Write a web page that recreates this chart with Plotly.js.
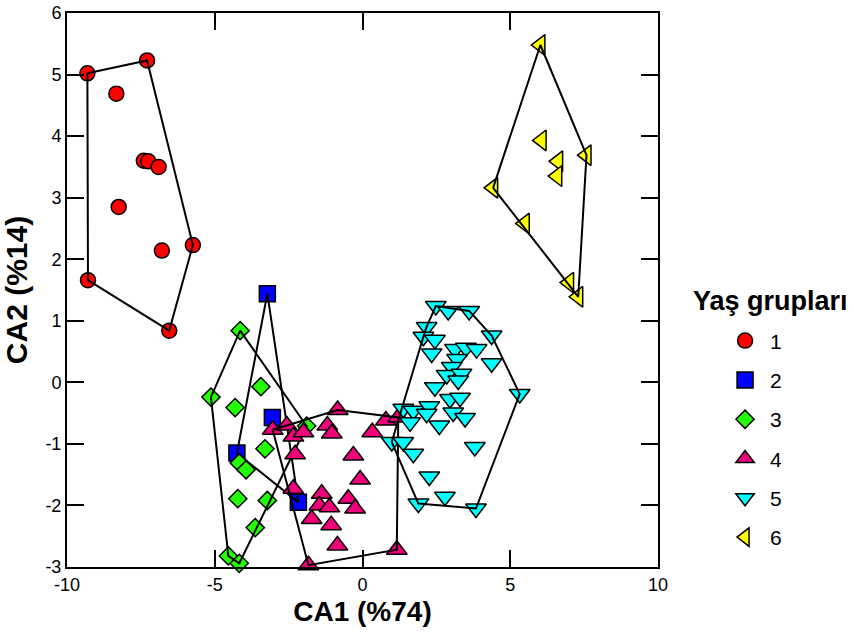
<!DOCTYPE html>
<html>
<head>
<meta charset="utf-8">
<script src="https://cdn.plot.ly/plotly-3.0.1.min.js"></script>
<style>html,body{margin:0;padding:0;background:#fff;}#chart{width:854px;height:632px;}</style>
</head>
<body>
<div id="chart"></div>
<script>
// ---- data ----
const groupNames = ["1", "2", "3", "4", "5", "6"];
const legendTitle = "Yaş grupları";
const xTitle = "CA1 (%74)";
const yTitle = "CA2 (%14)";
const xTickVals = [-10, -5, 0, 5, 10];
const xTickText = ["-10", "-5", "0", "5", "10"];
const yTickVals = [-3, -2, -1, 0, 1, 2, 3, 4, 5, 6];
const yTickText = ["-3", "-2", "-1", "0", "1", "2", "3", "4", "5", "6"];

const g1X = [-9.31, -7.29, -8.33, -7.40, -7.25, -6.90, -8.25, -5.74, -6.79, -9.29, -6.54];
const g1Y = [5.02, 5.23, 4.69, 3.60, 3.59, 3.50, 2.85, 2.23, 2.14, 1.66, 0.84];

const g2X = [-3.22, -4.25, -3.05, -2.17];
const g2Y = [1.44, -1.15, -0.57, -1.95];

const g3X = [-4.14, -5.13, -3.44, -4.31, -1.89, -3.30, -4.17, -3.94, -4.22, -3.22, -3.63, -4.54, -4.17];
const g3Y = [0.84, -0.24, -0.07, -0.41, -0.71, -1.08, -1.31, -1.42, -1.89, -1.92, -2.36, -2.82, -2.94];

const g4X = [-0.84, -1.19, -1.04, 0.79, 0.33, -0.31, -0.08, -0.48, -0.25, -1.38, -1.46, -1.12, -1.72, -1.06, -0.85, 1.16, -1.83, -3.04, -2.56, -2.34, -2.00, -2.28, -2.34, 1.21];
const g4Y = [-0.45, -0.70, -0.83, -0.62, -0.81, -1.19, -1.58, -1.89, -2.05, -1.81, -2.00, -2.03, -2.22, -2.32, -2.65, -2.72, -2.97, -0.77, -0.70, -0.88, -0.81, -1.17, -1.73, -0.57];

const g5X = [2.48, 2.90, 3.61, 2.17, 2.06, 2.45, 4.37, 2.34, 3.13, 3.50, 3.86, 3.20, 4.37, 3.02, 2.85, 3.35, 3.24, 2.45, 2.96, 3.30, 5.32, 1.38, 1.72, 2.26, 2.17, 3.07, 3.47, 2.60, 1.61, 0.99, 1.38, 1.72, 3.80, 2.26, 2.79, 1.89, 3.84];
const g5Y = [1.24, 1.16, 1.16, 0.90, 0.74, 0.69, 0.76, 0.47, 0.54, 0.56, 0.54, 0.38, 0.31, 0.25, 0.12, 0.14, 0.03, -0.08, -0.27, -0.25, -0.19, -0.43, -0.46, -0.39, -0.51, -0.49, -0.58, -0.70, -0.65, -0.97, -0.97, -1.16, -1.05, -1.53, -1.86, -1.97, -2.05];

const g6X = [6.02, 6.06, 7.58, 6.62, 6.59, 4.42, 5.49, 6.99, 7.30];
const g6Y = [5.48, 3.93, 3.69, 3.59, 3.35, 3.16, 2.58, 1.62, 1.39];

// ---- styles ----
const groupsX = [g1X, g2X, g3X, g4X, g5X, g6X];
const groupsY = [g1Y, g2Y, g3Y, g4Y, g5Y, g6Y];
const symbols = ["circle", "square", "diamond", "triangle-up", "triangle-down", "triangle-left"];
const colors = ["#FF0000", "#0000FF", "#22FF00", "#F0007A", "#00FFFF", "#FFFF00"];
const sizes = [15, 16, 14, 18, 18, 18];

function hull(xs, ys) {
  const pts = xs.map((x, i) => [x, ys[i]]).sort((a, b) => a[0] - b[0] || a[1] - b[1]);
  const cross = (o, a, b) => (a[0] - o[0]) * (b[1] - o[1]) - (a[1] - o[1]) * (b[0] - o[0]);
  const lower = [], upper = [];
  for (const p of pts) {
    while (lower.length >= 2 && cross(lower[lower.length - 2], lower[lower.length - 1], p) <= 0) lower.pop();
    lower.push(p);
  }
  for (let i = pts.length - 1; i >= 0; i--) {
    const p = pts[i];
    while (upper.length >= 2 && cross(upper[upper.length - 2], upper[upper.length - 1], p) <= 0) upper.pop();
    upper.push(p);
  }
  const h = lower.slice(0, -1).concat(upper.slice(0, -1));
  h.push(h[0]);
  return h;
}

const font = "Liberation Sans, Arial, sans-serif";
const traces = [];
for (let i = 0; i < 6; i++) {
  traces.push({
    type: "scatter", mode: "markers", name: groupNames[i],
    x: groupsX[i], y: groupsY[i],
    legendgroup: "g" + i,
    marker: { symbol: symbols[i], color: colors[i], size: sizes[i], line: { color: "#000", width: 1.5 } },
    cliponaxis: false
  });
  const h = hull(groupsX[i], groupsY[i]);
  traces.push({
    type: "scatter", mode: "lines", showlegend: false, hoverinfo: "skip",
    x: h.map(p => p[0]), y: h.map(p => p[1]),
    line: { color: "#000", width: 2 },
    cliponaxis: false
  });
}

const axisCommon = {
  showline: true, linecolor: "#000", linewidth: 2, mirror: "ticks",
  ticks: "inside", ticklen: 17, tickwidth: 2, tickcolor: "#000",
  showgrid: false, zeroline: false,
  tickfont: { family: font, size: 18, color: "#000" },
  tickmode: "array", fixedrange: true
};

const layout = {
  width: 854, height: 632,
  margin: { l: 67, r: 196, t: 13, b: 65 },
  paper_bgcolor: "#fff", plot_bgcolor: "#fff",
  font: { family: font, color: "#000" },
  xaxis: Object.assign({}, axisCommon, {
    range: [-10, 10], tickvals: xTickVals, ticktext: xTickText,
    title: { text: xTitle, font: { family: font, size: 28, weight: "bold", color: "#000" }, standoff: 8 }
  }),
  yaxis: Object.assign({}, axisCommon, {
    range: [-3, 6], tickvals: yTickVals, ticktext: yTickText,
    title: { text: yTitle, font: { family: font, size: 30, weight: "bold", color: "#000" }, standoff: 10 }
  }),
  showlegend: true,
  legend: {
    x: 1.105, xanchor: "left", y: 0.445, yanchor: "top",
    font: { family: font, size: 21, color: "#000" },
    traceorder: "grouped", tracegroupgap: 9,
    itemwidth: 40, bgcolor: "rgba(0,0,0,0)"
  },
  annotations: [{
    text: legendTitle, xref: "paper", yref: "paper", x: 1.19, y: 0.481,
    xanchor: "center", yanchor: "middle", showarrow: false,
    font: { family: font, size: 27, weight: "bold", color: "#000" }
  }]
};

Plotly.newPlot("chart", traces, layout, { displayModeBar: false, staticPlot: true });
</script>
</body>
</html>
